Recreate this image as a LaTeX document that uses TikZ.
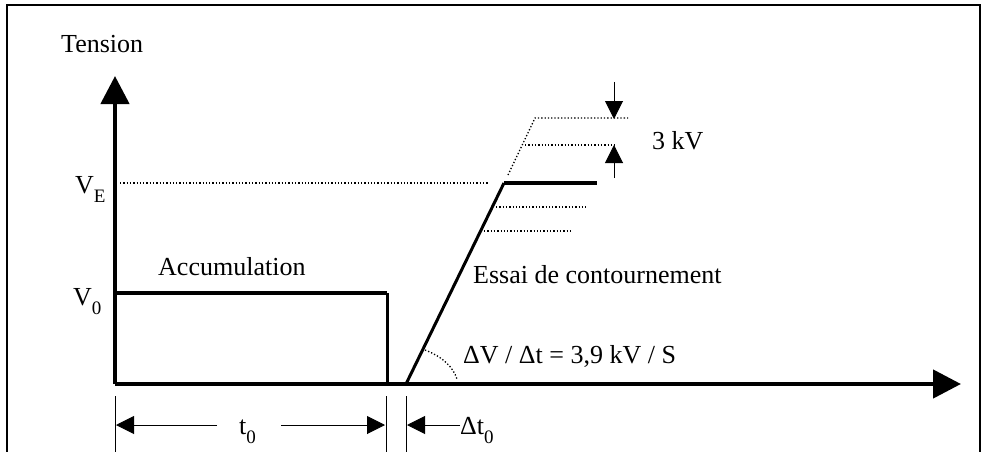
\documentclass[tikz,border=0pt]{standalone}
\usepackage{fontspec}
\setmainfont{Liberation Serif}
\usetikzlibrary{arrows.meta}

% indice abaissé (V_E, V_0, t_0)
\newcommand\indice[1]{\raisebox{-9pt}{\fontsize{19}{19}\selectfont #1}}

\tikzset{
  axe/.style={line width=4.5pt, -{Triangle[length=28pt,width=28pt]}},
  palier/.style={line width=4.5pt},
  rampe/.style={line width=3pt},
  repere/.style={line width=1.3pt, dash pattern=on 1.3pt off 2pt},
  cote/.style={line width=1pt, -{Triangle[length=18pt,width=18pt]}},
  trait/.style={line width=1pt},
  etiq/.style={inner sep=0pt, anchor=base west, font=\fontsize{26}{31}\selectfont},
}

\begin{document}
\begin{tikzpicture}[x=1pt, y=-1pt, line join=miter]
            \useasboundingbox (0,0) rectangle (988,452);
            % Cadre
            \draw[line width=2.5pt] (7,452) -- (7,5) -- (980,5) -- (980,452);

            % Points remarquables
            \coordinate (O) at (115,384);
            \coordinate (V0g) at (115,293);
            \coordinate (V0d) at (387,293);
            \coordinate (A) at (387,384);
            \coordinate (R0) at (406,384);
            \coordinate (RE) at (504,183);
            \coordinate (P) at (597,183);

            % Axes
            \draw[axe] (O) -- (115,76);
            \draw[axe] (O) -- (961,384);

            % Accumulation
            \draw[palier] (V0g) -- (V0d);
            \draw[rampe] (V0d) -- (A);

            % Essai de contournement
            \draw[rampe] (R0) -- (RE);
            \draw[palier] (RE) -- (P);

            % Repères pointillés
            \draw[repere] (120,183) -- (488,183);
            \draw[repere] (508,175) -- (535,118) -- (628,118);
            \draw[repere] (525,145) -- (616,145);
            \draw[repere] (496,207) -- (587,207);
            \draw[repere] (484,231) -- (570,231);
            \draw[repere] (425,350) .. controls (443,357) and (453,367) .. (457,379);

            % Pas de 3 kV
            \draw[cote] (614,82) -- (614,119);
            \draw[cote] (614,178) -- (614,145);

            % Cotes du bas
            \draw[trait] (115,396) -- (115,452);
            \draw[trait] (386,396) -- (386,452);
            \draw[trait] (406,396) -- (406,452);
            \draw[cote] (217,425) -- (116,425);
            \draw[cote] (281,425) -- (385,425);
            \draw[cote] (460,425) -- (407,425);

            % Textes
            \node[etiq] (tension) at (61,53) {Tension};
            \node[etiq] (ve) at (75,193) {V\indice{E}};
            \node[etiq] (vz) at (73,305) {V\indice{0}};
            \node[etiq] (accu) at (158,275) {Accumulation};
            \node[etiq] (essai) at (473,283) {Essai de contournement};
            \node[etiq] (pente) at (463,363) {ΔV / Δt = 3,9 kV / S};
            \node[etiq] (pas) at (652,149) {3 kV};
            \node[etiq] (tz) at (239,434) {t\indice{0}};
            \node[etiq] (dtz) at (460,434) {Δt\indice{0}};
        \end{tikzpicture}
\end{document}
